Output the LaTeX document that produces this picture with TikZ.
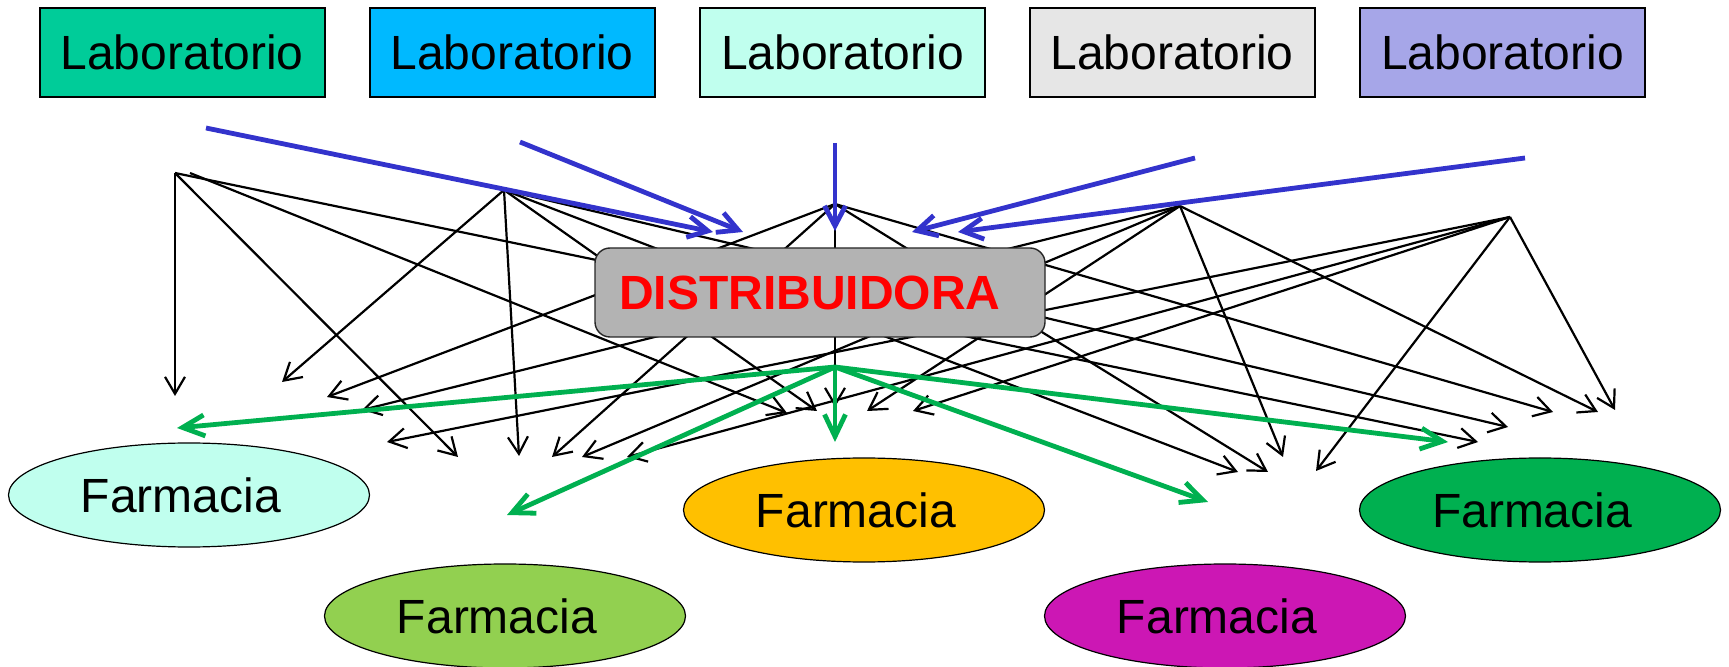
\documentclass[tikz,border=0pt]{standalone}
\usepackage{fontspec}
\setmainfont{Liberation Sans}
\usetikzlibrary{arrows.meta,shapes.geometric}
\definecolor{labA}{HTML}{00CC99}
\definecolor{labB}{HTML}{00B9FF}
\definecolor{labC}{HTML}{C0FFEE}
\definecolor{labD}{HTML}{E6E6E6}
\definecolor{labE}{HTML}{A6A6E8}
\definecolor{distfill}{HTML}{B3B3B3}
\definecolor{flowblue}{HTML}{3333CC}
\definecolor{flowgreen}{HTML}{00B050}
\definecolor{farmA}{HTML}{C0FFEE}
\definecolor{farmB}{HTML}{92D050}
\definecolor{farmC}{HTML}{FFC000}
\definecolor{farmD}{HTML}{CC17B4}
\definecolor{farmE}{HTML}{00B050}
\begin{document}
\begin{tikzpicture}[x=0.5pt,y=-0.5pt,
  bigfont/.style={font=\fontsize{24}{28}\selectfont},
  labbox/.style={draw=black,line width=1pt,minimum width=142.5pt,minimum height=44.5pt,inner sep=0pt,bigfont},
  farm/.style={ellipse,draw=black,line width=0.6pt,minimum width=180.5pt,minimum height=52pt,inner sep=0pt,bigfont},
  distbox/.style={draw=black!85,line width=0.7pt,fill=distfill,rounded corners=7.5pt,minimum width=225pt,minimum height=44.5pt,inner sep=0pt,text=red,font=\fontsize{24}{28}\selectfont\bfseries},
  direct/.style={line width=1.1pt,-{Straight Barb[length=8.5pt,width=10pt]}},
  supply/.style={line width=2.4pt,flowblue,-{Straight Barb[length=10pt,width=10.5pt]}},
  deliver/.style={line width=2.4pt,flowgreen,-{Straight Barb[length=11pt,width=10.5pt]}}]
\useasboundingbox (0,0) rectangle (1729,667);
% hubs of the direct routes
\coordinate (hA) at (175,173);
\coordinate (hA2) at (190,173);
\coordinate (hB) at (504,190);
\coordinate (hC) at (835,204);
\coordinate (hD) at (1180,206);
\coordinate (hE) at (1510,217);
% arrow ends near farmacia 1
\coordinate (p1a) at (175,396);
\coordinate (p1b) at (282,382);
\coordinate (p1c) at (327,397);
\coordinate (p1d) at (362,410);
\coordinate (p1e) at (387,442);
% farmacia 2
\coordinate (p2a) at (458,457);
\coordinate (p2b) at (519,456);
\coordinate (p2c) at (552,457);
\coordinate (p2d) at (582,457);
\coordinate (p2e) at (627,457);
% farmacia 3
\coordinate (p3a) at (787,413);
\coordinate (p3b) at (817,411);
\coordinate (p3c) at (835,407);
\coordinate (p3d) at (867,411);
\coordinate (p3e) at (913,411);
% farmacia 4
\coordinate (p4b) at (1238,472);
\coordinate (p4c) at (1268,472);
\coordinate (p4d) at (1283,457);
\coordinate (p4e) at (1316,471);
% farmacia 5
\coordinate (p5a) at (1478,442);
\coordinate (p5b) at (1508,427);
\coordinate (p5c) at (1553,412);
\coordinate (p5d) at (1598,412);
\coordinate (p5e) at (1615,410);
% direct routes
\draw[direct] (hA) -- (p1a);
\draw[direct] (hA) -- (p2a);
\draw[direct] (hA2) -- (p3a);
\draw[direct] (hA) -- (p5a);
\draw[direct] (hB) -- (p1b);
\draw[direct] (hB) -- (p2b);
\draw[direct] (hB) -- (p3b);
\draw[direct] (hB) -- (p4b);
\draw[direct] (hB) -- (p5b);
\draw[direct] (hC) -- (p1c);
\draw[direct] (hC) -- (p2c);
\draw[direct] (hC) -- (p3c);
\draw[direct] (hC) -- (p4c);
\draw[direct] (hC) -- (p5c);
\draw[direct] (hD) -- (p1d);
\draw[direct] (hD) -- (p2d);
\draw[direct] (hD) -- (p3d);
\draw[direct] (hD) -- (p4d);
\draw[direct] (hD) -- (p5d);
\draw[direct] (hE) -- (p1e);
\draw[direct] (hE) -- (p2e);
\draw[direct] (hE) -- (p3e);
\draw[direct] (hE) -- (p4e);
\draw[direct] (hE) -- (p5e);
% distribuidora
\node[distbox] (dist) at (820,292.5) {\hspace*{-10pt}DISTRIBUIDORA};
% supply arrows
\coordinate (bs1) at (206,128);
\coordinate (bs2) at (520,142);
\coordinate (bs3) at (835,143);
\coordinate (bs4) at (1195,158);
\coordinate (bs5) at (1525,158);
\coordinate (bt1) at (713,232);
\coordinate (bt2) at (743,232);
\coordinate (bt3) at (835,231);
\coordinate (bt4) at (912,232);
\coordinate (bt5) at (958,232);
\draw[supply] (bs1) -- (bt1);
\draw[supply] (bs2) -- (bt2);
\draw[supply] (bs3) -- (bt3);
\draw[supply] (bs4) -- (bt4);
\draw[supply] (bs5) -- (bt5);
% delivery arrows
\coordinate (g) at (835,367);
\coordinate (gt1) at (177,428);
\coordinate (gt2) at (507,515);
\coordinate (gt3) at (835,442);
\coordinate (gt4) at (1208,502);
\coordinate (gt5) at (1448,442);
\draw[deliver] (g) -- (gt1);
\draw[deliver] (g) -- (gt2);
\draw[deliver] (g) -- (gt3);
\draw[deliver] (g) -- (gt4);
\draw[deliver] (g) -- (gt5);
% farmacias
\node[farm,fill=farmA] (f1) at (189,495) {\hspace*{-8pt}Farmacia};
\node[farm,fill=farmB] (f2) at (505,616) {\hspace*{-8pt}Farmacia};
\node[farm,fill=farmC] (f3) at (864,510) {\hspace*{-8pt}Farmacia};
\node[farm,fill=farmD] (f4) at (1225,616) {\hspace*{-8pt}Farmacia};
\node[farm,fill=farmE] (f5) at (1540,510) {\hspace*{-8pt}Farmacia};
% laboratorios
\node[labbox,fill=labA] (l1) at (182,52.3) {Laboratorio};
\node[labbox,fill=labB] (l2) at (512,52.3) {Laboratorio};
\node[labbox,fill=labC] (l3) at (842.5,52.3) {Laboratorio};
\node[labbox,fill=labD] (l4) at (1172,52.3) {Laboratorio};
\node[labbox,fill=labE] (l5) at (1502.5,52.3) {Laboratorio};
\end{tikzpicture}
\end{document}
